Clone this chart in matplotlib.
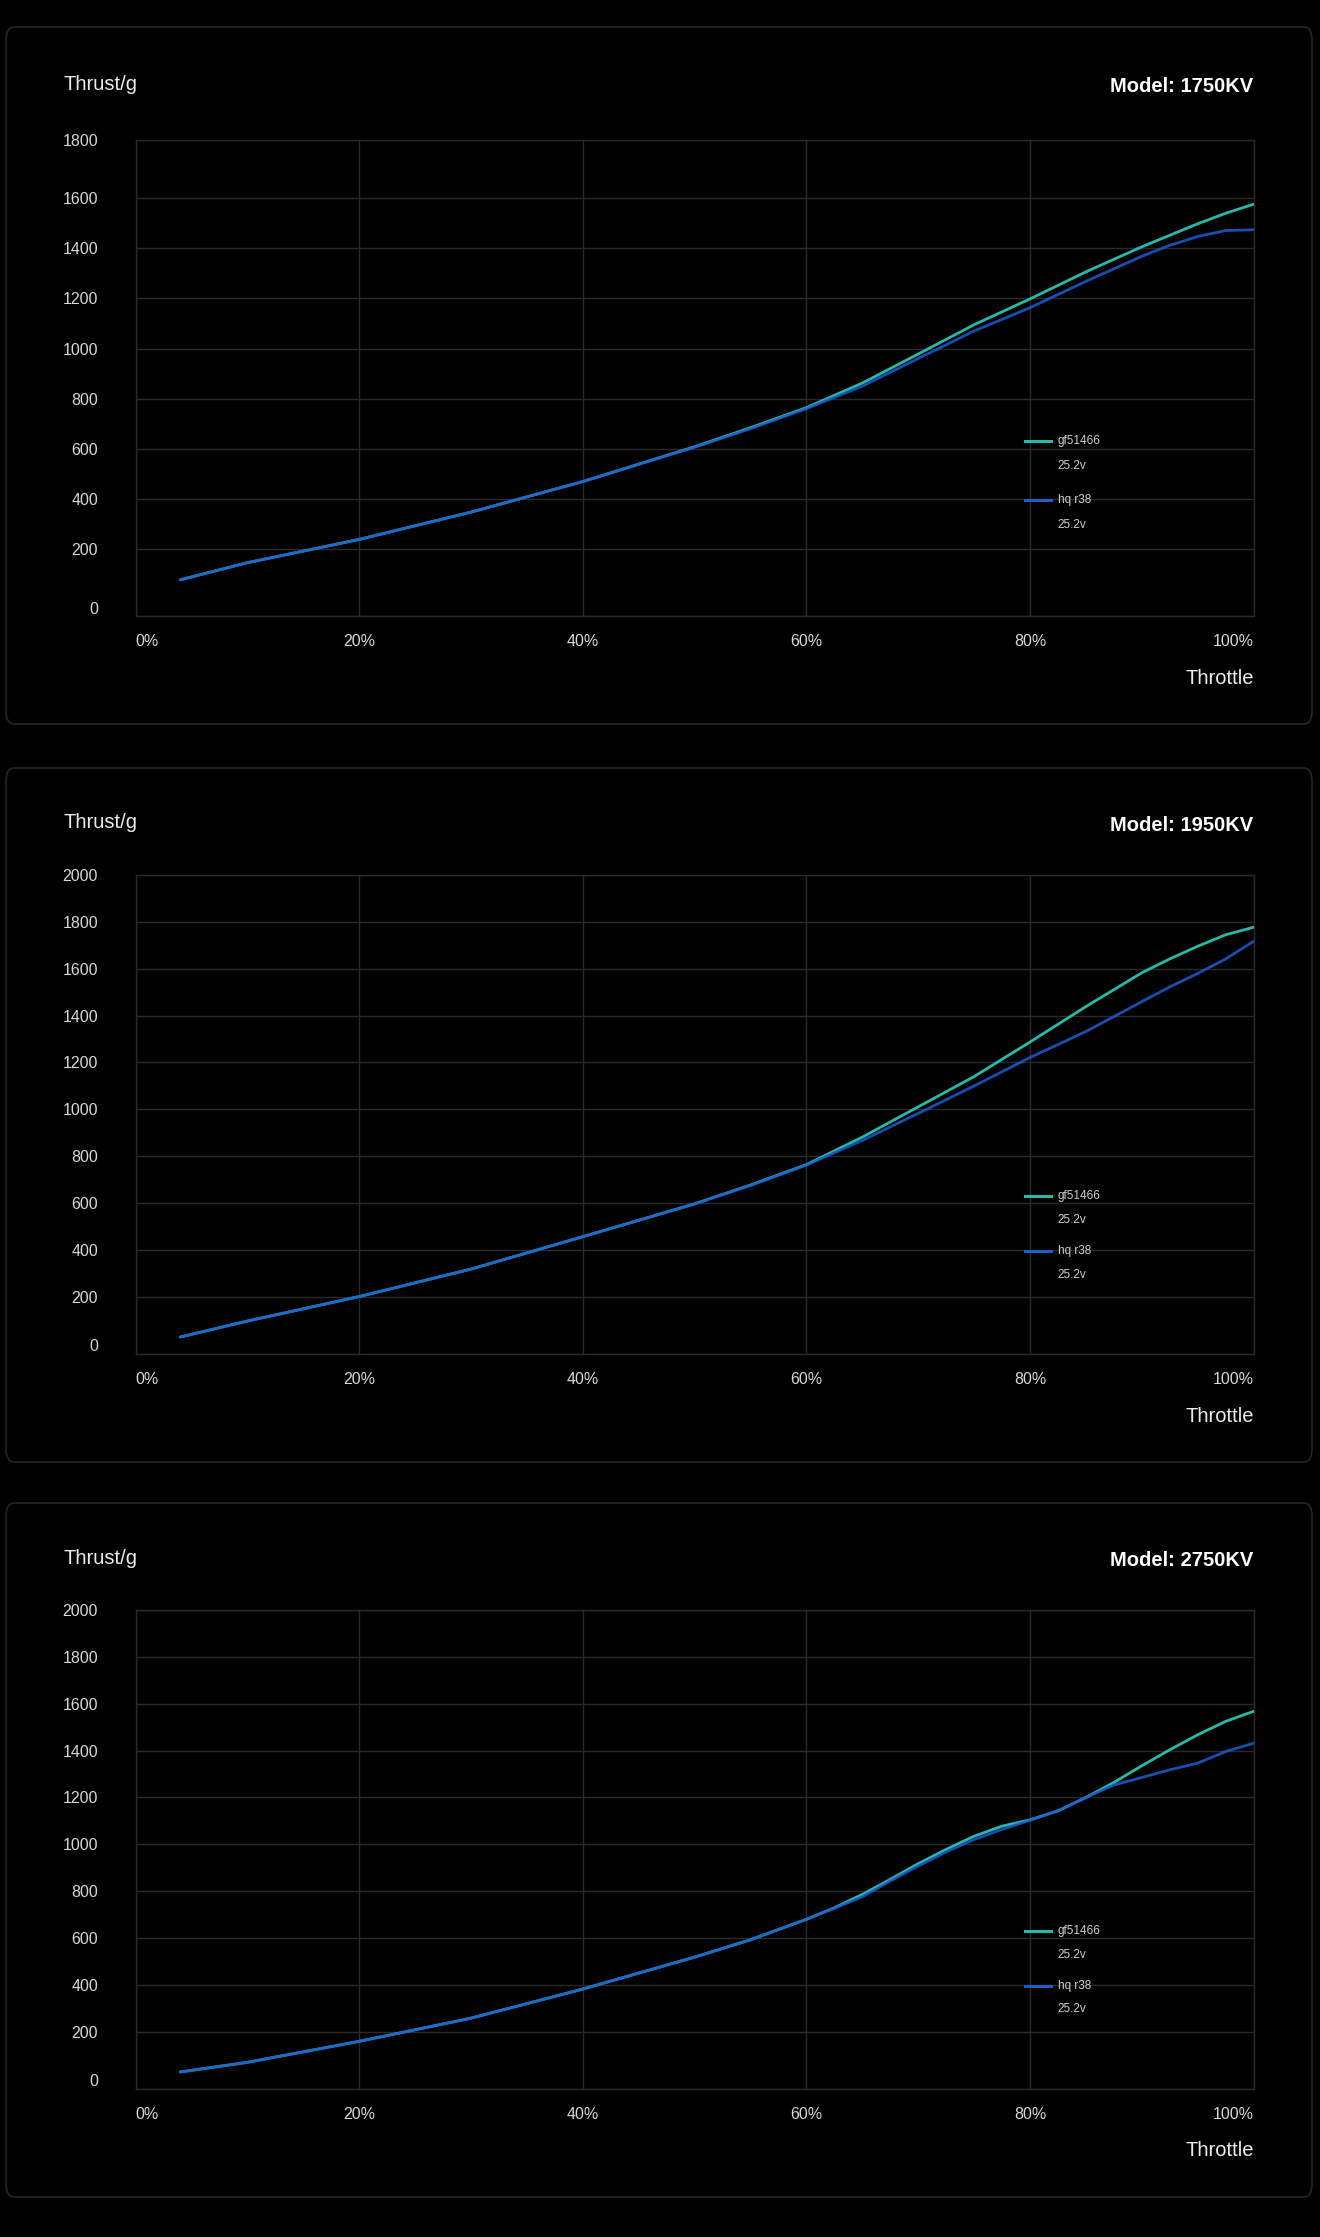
import matplotlib
matplotlib.use('Agg')
import matplotlib.pyplot as plt
import matplotlib.transforms as mtransforms
from matplotlib.patches import FancyBboxPatch
from matplotlib.lines import Line2D
import numpy as np

plt.rcParams['font.family'] = ['Liberation Sans', 'DejaVu Sans']

### DATA (throttle %, thrust g)
throttle_ab = [4, 10, 20, 30, 40, 50, 55, 60, 65, 70, 75, 80, 85, 90, 92.5, 95, 97.5, 100]
gf_1750 = [108, 159, 238, 347, 469, 608, 684, 764, 862, 978, 1095, 1198, 1306, 1406, 1452, 1498, 1540, 1576]
hq_1750 = [108, 159, 238, 347, 469, 606, 680, 760, 850, 960, 1070, 1163, 1268, 1368, 1412, 1447, 1471, 1474]

gf_1950 = [60, 116, 203, 320, 458, 598, 678, 765, 882, 1011, 1140, 1287, 1438, 1582, 1641, 1695, 1744, 1776]
hq_1950 = [60, 116, 203, 320, 458, 597, 676, 763, 868, 983, 1100, 1221, 1332, 1459, 1522, 1579, 1641, 1716]

throttle_c = [4, 10, 20, 30, 40, 50, 55, 60, 62.5, 65, 67.5, 70, 72.5, 75, 77.5, 80,
              82.5, 85, 87.5, 90, 92.5, 95, 97.5, 100]
gf_2750 = [60, 94, 168, 260, 384, 520, 594, 681, 730, 787, 851, 918, 979, 1035, 1078, 1105,
           1143, 1200, 1264, 1335, 1403, 1467, 1524, 1567]
hq_2750 = [60, 94, 168, 260, 384, 520, 594, 681, 728, 777, 844, 908, 968, 1021, 1064, 1103,
           1143, 1200, 1253, 1285, 1318, 1346, 1396, 1431]

x_ticks = [0, 20, 40, 60, 80, 100]
x_labels = ['0%', '20%', '40%', '60%', '80%', '100%']
y_ticks_1800 = [0, 200, 400, 600, 800, 1000, 1200, 1400, 1600, 1800]
y_ticks_2000 = [0, 200, 400, 600, 800, 1000, 1200, 1400, 1600, 1800, 2000]
series_names = ['gf51466', 'hq r38']
voltage = '25.2v'

### STYLE
W, H = 1320, 2237
TEAL = '#27b9a9'
BLUE = '#1c5ccf'
GRID = '#2a2a2a'
TICK = '#d8d8d8'

def fx(px):
    return px / W

def fy(py):
    return 1 - py / H

# the chart's value axis is not evenly spaced at the ends, so map ticks to axis fractions
fr_1800 = [0.0] + list(np.linspace(0.1408, 0.8777, 8)) + [1.0]
fr_2000 = [0.0] + list(np.linspace(0.1184, 0.9027, 9)) + [1.0]

panels = [
    dict(title='Model: 1750KV', x=throttle_ab, gf=gf_1750, hq=hq_1750,
         ticks=y_ticks_1800, fracs=fr_1800, box=(27, 724), plot=(140, 616),
         t_y=85, m_y=87, th_y=679, leg=(0.367, 0.315, 0.243, 0.191), zshift=8),
    dict(title='Model: 1950KV', x=throttle_ab, gf=gf_1950, hq=hq_1950,
         ticks=y_ticks_2000, fracs=fr_2000, box=(768, 1462), plot=(875, 1354),
         t_y=823, m_y=825, th_y=1416, leg=(0.329, 0.279, 0.214, 0.165), zshift=9),
    dict(title='Model: 2750KV', x=throttle_c, gf=gf_2750, hq=hq_2750,
         ticks=y_ticks_2000, fracs=fr_2000, box=(1503, 2197), plot=(1610, 2089),
         t_y=1558, m_y=1560, th_y=2151, leg=(0.330, 0.280, 0.215, 0.166), zshift=9),
]

fig = plt.figure(figsize=(13.2, 22.37), dpi=100, facecolor='black')

plot_l, plot_r = 135.5, 1253.6

for p in panels:
    # panel card (outline only, drawn behind the axes)
    b0, b1 = p['box']
    card = FancyBboxPatch((fx(6), fy(b1)), fx(1312) - fx(6), fy(b0) - fy(b1),
                          boxstyle='round,pad=0,rounding_size=0.006',
                          transform=fig.transFigure, facecolor='none',
                          edgecolor='#262626', linewidth=1.2, zorder=-1)
    fig.patches.append(card)

    p0, p1 = p['plot']
    ax = fig.add_axes([fx(plot_l), fy(p1), fx(plot_r) - fx(plot_l), fy(p0) - fy(p1)])
    ax.set_facecolor('black')

    tk = np.array(p['ticks'], dtype=float)
    fr = np.array(p['fracs'])
    tk_ext = np.concatenate([[tk[0] - 1e4], tk, [tk[-1] + 1e4]])
    fr_ext = np.concatenate([[fr[0] - 1e4 * (fr[1] - fr[0]) / (tk[1] - tk[0])], fr,
                             [fr[-1] + 1e4 * (fr[-1] - fr[-2]) / (tk[-1] - tk[-2])]])

    def fwd(v, t=tk_ext, f=fr_ext):
        return np.interp(v, t, f)

    def inv(v, t=tk_ext, f=fr_ext):
        return np.interp(v, f, t)

    ax.set_yscale('function', functions=(fwd, inv))

    ax.plot(p['x'], p['gf'], color=TEAL, lw=2.0, solid_capstyle='round',
            solid_joinstyle='round', zorder=3)
    ax.plot(p['x'], p['hq'], color=BLUE, lw=2.0, alpha=0.85, solid_capstyle='round',
            solid_joinstyle='round', zorder=4)

    ax.set_xlim(0, 100)
    ax.set_ylim(tk[0], tk[-1])
    ax.set_xticks(x_ticks)
    ax.set_xticklabels(x_labels)
    ax.set_yticks(p['ticks'])
    ax.set_yticklabels([str(int(t)) for t in p['ticks']])
    ax.minorticks_off()
    ax.tick_params(axis='both', length=0, labelsize=11.5, labelcolor=TICK)
    ax.tick_params(axis='x', pad=13)
    ax.tick_params(axis='y', pad=27)

    xl = ax.get_xticklabels()
    xl[0].set_horizontalalignment('left')
    xl[-1].set_horizontalalignment('right')
    z = ax.get_yticklabels()[0]
    z.set_transform(z.get_transform() +
                    mtransforms.ScaledTranslation(0, p['zshift'] / 100, fig.dpi_scale_trans))

    ax.grid(True, color=GRID, lw=1)
    ax.set_axisbelow(True)
    for s in ax.spines.values():
        s.set_color(GRID)
        s.set_linewidth(1)

    # legend block
    l1, t1, l2, t2 = p['leg']
    for yy, col, name in [(l1, TEAL, series_names[0]), (l2, BLUE, series_names[1])]:
        ax.add_artist(Line2D([0.7952, 0.8186], [yy, yy], transform=ax.transAxes,
                             color=col, lw=2.2, clip_on=False))
        ax.text(0.825, yy, name, transform=ax.transAxes, va='center', ha='left',
                fontsize=8.5, color='#cfcfcf')
    for yy in (t1, t2):
        ax.text(0.825, yy, voltage, transform=ax.transAxes, va='center', ha='left',
                fontsize=8.5, color='#cfcfcf')

    fig.text(fx(63), fy(p['t_y']), 'Thrust/g', ha='left', va='center',
             fontsize=14.5, color='#ececec')
    fig.text(fx(plot_r), fy(p['m_y']), p['title'], ha='right', va='center',
             fontsize=14.5, fontweight='bold', color='white')
    fig.text(fx(plot_r), fy(p['th_y']), 'Throttle', ha='right', va='center',
             fontsize=14.5, color='#ececec')

fig.savefig('out.png', dpi=100, facecolor='black')
